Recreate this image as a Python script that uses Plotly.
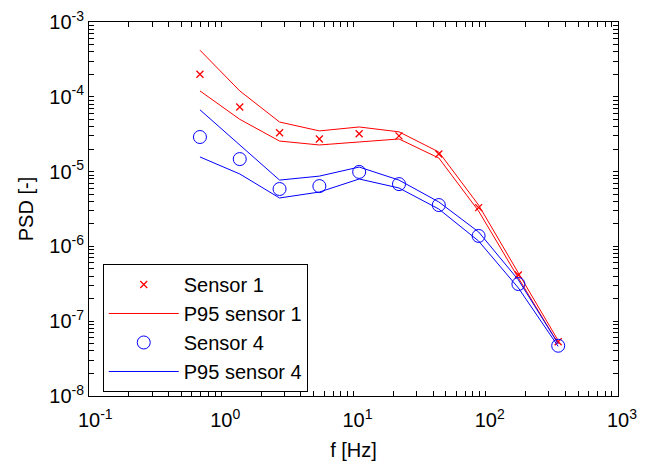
import plotly.graph_objects as go

# Frequencies (octave bands) [Hz]
freq = [0.69, 1.38, 2.76, 5.52, 11.04, 22.08, 44.16, 88.3, 176.6, 353.0]

# Sensor 1 PSD and its P95 band
sensor1 = [2.0e-4, 7.3e-5, 3.3e-5, 2.73e-5, 3.2e-5, 3.0e-5, 1.72e-5, 3.3e-6, 4.15e-7, 5.3e-8]
p95_s1_upper = [4.2e-4, 1.2e-4, 4.6e-5, 3.5e-5, 3.95e-5, 3.4e-5, 1.83e-5, 3.57e-6, 4.4e-7, 5.5e-8]
p95_s1_lower = [1.2e-4, 5.0e-5, 2.56e-5, 2.27e-5, 2.49e-5, 2.73e-5, 1.52e-5, 2.97e-6, 3.78e-7, 5.0e-8]

# Sensor 4 PSD and its P95 band
sensor4 = [2.9e-5, 1.47e-5, 5.85e-6, 6.4e-6, 9.9e-6, 6.8e-6, 3.57e-6, 1.38e-6, 3.14e-7, 4.7e-8]
p95_s4_upper = [6.7e-5, 2.3e-5, 7.7e-6, 8.7e-6, 1.15e-5, 7.7e-6, 3.93e-6, 1.56e-6, 3.56e-7, 5.0e-8]
p95_s4_lower = [1.57e-5, 9.3e-6, 4.44e-6, 5.33e-6, 7.96e-6, 6.04e-6, 3.16e-6, 1.18e-6, 2.78e-7, 4.6e-8]

x_exponents = [-1, 0, 1, 2, 3]
y_exponents = [-8, -7, -6, -5, -4, -3]


def log_ticks(exponents, balance):
    """Decade ticks with 10^n labels plus unlabeled 2..9 ticks in each decade."""
    vals, texts = [], []
    for i, e in enumerate(exponents):
        vals.append(10.0 ** e)
        if balance:
            texts.append("<span style='color:rgba(0,0,0,0)'><sup>%d</sup></span>10<sup>%d</sup>" % (e, e))
        else:
            texts.append("10<sup>%d</sup>" % e)
        if i < len(exponents) - 1:
            for m in range(2, 10):
                vals.append(m * 10.0 ** e)
                texts.append("")
    return vals, texts


x_tickvals, x_ticktext = log_ticks(x_exponents, True)
y_tickvals, y_ticktext = log_ticks(y_exponents, False)

RED = "#ff0000"
BLUE = "#0000ff"
FONT = "Liberation Sans, Arial, sans-serif"

fig = go.Figure()
fig.add_trace(go.Scatter(x=freq, y=sensor1, mode="markers", name="Sensor 1",
                         legendgroup="g1",
                         marker=dict(symbol="x-thin", size=7, line=dict(color=RED, width=1.3), color=RED)))
fig.add_trace(go.Scatter(x=freq, y=p95_s1_upper, mode="lines", name="P95 sensor 1",
                         legendgroup="g2", line=dict(color=RED, width=1)))
fig.add_trace(go.Scatter(x=freq, y=p95_s1_lower, mode="lines", name="P95 sensor 1",
                         legendgroup="g2", showlegend=False, line=dict(color=RED, width=1)))
fig.add_trace(go.Scatter(x=freq, y=sensor4, mode="markers", name="Sensor 4",
                         legendgroup="g3",
                         marker=dict(symbol="circle-open", size=13, line=dict(color=BLUE, width=1), color=BLUE)))
fig.add_trace(go.Scatter(x=freq, y=p95_s4_upper, mode="lines", name="P95 sensor 4",
                         legendgroup="g4", line=dict(color=BLUE, width=1)))
fig.add_trace(go.Scatter(x=freq, y=p95_s4_lower, mode="lines", name="P95 sensor 4",
                         legendgroup="g4", showlegend=False, line=dict(color=BLUE, width=1)))

axis_common = dict(
    showgrid=False, zeroline=False, showline=True, linecolor="black", linewidth=1,
    mirror="allticks", ticks="inside", ticklen=5, tickcolor="black", tickwidth=1,
    tickfont=dict(family=FONT, size=20, color="black"), automargin=False,
)

fig.update_layout(
    xaxis=dict(type="log", range=[-1, 3], tickmode="array", tickvals=x_tickvals, ticktext=x_ticktext,
               ticklabelstandoff=6,
               title=dict(text="f [Hz]", font=dict(family=FONT, size=20, color="black"), standoff=12),
               **axis_common),
    yaxis=dict(type="log", range=[-8, -3], tickmode="array", tickvals=y_tickvals, ticktext=y_ticktext,
               title=dict(text="PSD [-]", font=dict(family=FONT, size=20, color="black"), standoff=10),
               **axis_common),
)

fig.update_layout(
    width=650, height=463,
    margin=dict(l=89, r=32, t=22, b=67),
    paper_bgcolor="white", plot_bgcolor="white",
    font=dict(family=FONT, color="black"),
    legend=dict(x=0.026, y=0.353, xanchor="left", yanchor="top",
                bgcolor="white", bordercolor="black", borderwidth=1,
                font=dict(family=FONT, size=20, color="black"),
                itemwidth=70, tracegroupgap=0),
)

fig.write_html("out.html")
